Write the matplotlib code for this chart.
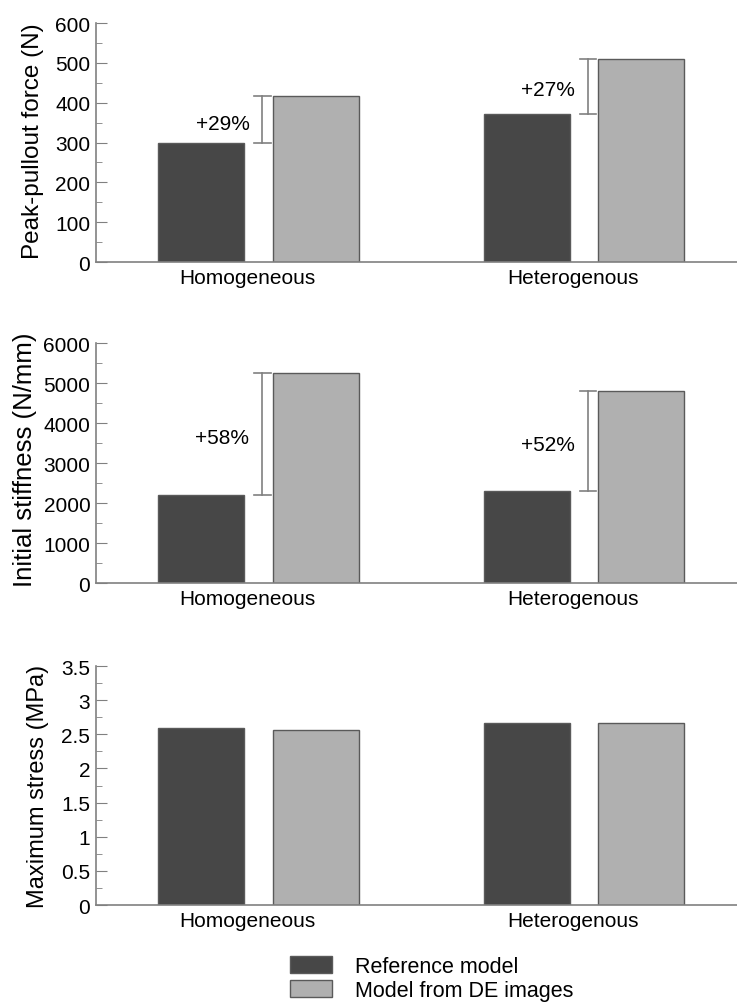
import numpy as np
import matplotlib.pyplot as plt
from matplotlib.patches import Patch

plt.rcParams['font.family'] = ['Liberation Sans', 'DejaVu Sans']

groups = ['Homogeneous', 'Heterogenous']
series = ['Reference model', 'Model from DE images']

peak_force_ref = [298, 372]
peak_force_de = [418, 511]
stiffness_ref = [2220, 2300]
stiffness_de = [5260, 4820]
stress_ref = [2.59, 2.66]
stress_de = [2.57, 2.66]

peak_force_labels = ['+29%', '+27%']
stiffness_labels = ['+58%', '+52%']

dark = '#474747'
light = '#b0b0b0'
edge = '#5a5a5a'
axis_col = '#808080'


def bar_panel(ax, ref, de, ylabel, ymax, major, minor, tick_fmt, pct=None,
              label_size=17, label_x=-0.09, label_y=0.5):
    x = np.arange(len(groups))
    w = 0.264
    off = 0.176
    ax.bar(x - off, ref, w, color=dark, edgecolor=edge, linewidth=1.0)
    ax.bar(x + off, de, w, color=light, edgecolor=edge, linewidth=1.0)
    if pct is not None:
        for i in range(len(groups)):
            bx = x[i] + 0.012
            ax.plot([bx, bx], [ref[i], de[i]], color=axis_col, lw=1.2)
            for yy in (ref[i], de[i]):
                ax.plot([bx - 0.025, bx + 0.025], [yy, yy], color=axis_col, lw=1.2)
            mid = (ref[i] + de[i]) / 2 - 0.015 * ymax
            ax.text(bx - 0.04, mid, pct[i], ha='right', va='center', fontsize=15)
    ax.set_xlim(-0.5, 1.47)
    ax.set_ylim(0, ymax)
    ax.set_yticks(np.arange(0, ymax + major / 2, major))
    ax.set_yticks(np.arange(0, ymax + minor / 2, minor), minor=True)
    ax.set_yticklabels([tick_fmt(v) for v in np.arange(0, ymax + major / 2, major)])
    ax.set_xticks(x - 0.035)
    ax.set_xticklabels(groups, fontsize=15)
    ax.tick_params(axis='x', length=0, pad=4)
    ax.tick_params(axis='y', which='major', direction='in', length=8,
                   color=axis_col, labelsize=15, pad=4)
    ax.tick_params(axis='y', which='minor', direction='in', length=4, color=axis_col)
    ax.set_ylabel(ylabel, fontsize=label_size)
    ax.yaxis.set_label_coords(label_x, label_y)
    for s in ['top', 'right']:
        ax.spines[s].set_visible(False)
    for s in ['left', 'bottom']:
        ax.spines[s].set_color(axis_col)
        ax.spines[s].set_linewidth(1.2)


fig = plt.figure(figsize=(7.37, 10.04), dpi=100)
ax1 = fig.add_axes([0.130, 0.738, 0.87, 0.238])
ax2 = fig.add_axes([0.130, 0.418, 0.87, 0.239])
ax3 = fig.add_axes([0.130, 0.0976, 0.87, 0.238])

bar_panel(ax1, peak_force_ref, peak_force_de, 'Peak-pullout force (N)', 600, 100, 50,
          lambda v: f'{v:.0f}', peak_force_labels,
          label_size=17.5, label_x=-0.081, label_y=0.51)
bar_panel(ax2, stiffness_ref, stiffness_de, 'Initial stiffness (N/mm)', 6000, 1000, 500,
          lambda v: f'{v:.0f}', stiffness_labels,
          label_size=18.5, label_x=-0.092, label_y=0.52)
bar_panel(ax3, stress_ref, stress_de, 'Maximum stress (MPa)', 3.5, 0.5, 0.25,
          lambda v: f'{v:g}',
          label_size=17, label_x=-0.073, label_y=0.5)

handles = [Patch(facecolor=dark, edgecolor=edge, label=series[0]),
           Patch(facecolor=light, edgecolor=edge, label=series[1])]
fig.legend(handles=handles, loc='upper left', bbox_to_anchor=(0.393, 0.047),
           frameon=False, fontsize=15.5, handlelength=1.95, handleheight=0.85,
           handletextpad=1.1, labelspacing=0.15, borderpad=0, borderaxespad=0)

plt.savefig('out.png', dpi=100)
